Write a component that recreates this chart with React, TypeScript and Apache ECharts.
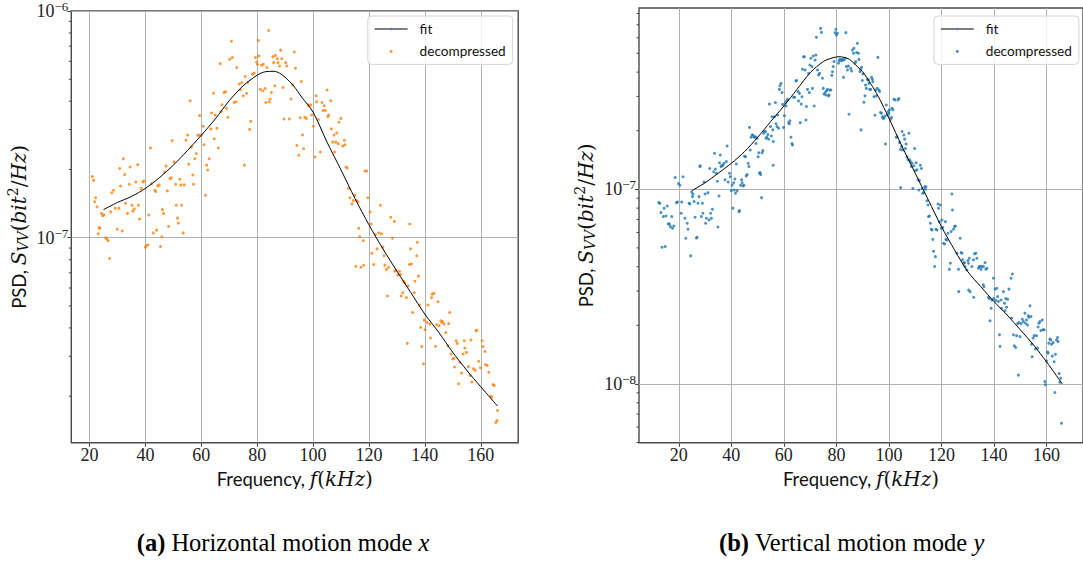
import React, { useEffect, useRef } from "react";
import * as echarts from "echarts";

// PSD values are given in units of 1e-7 bit^2/Hz
const UNIT = 1e-7;
const ORANGE = "#ff7f0e";
const BLUE = "#1f77b4";
const SERIF = "'Liberation Serif', 'DejaVu Serif', serif";
const MATH = "'DejaVu Serif', 'Liberation Serif', serif";
const SANS = "Lato, 'Open Sans', sans-serif";

const xTickValues = [20, 40, 60, 80, 100, 120, 140, 160];
const yMajorH = [1e-7, 1e-6];
const yMajorV = [1e-8, 1e-7];
const yMinorH = [2e-8, 3e-8, 4e-8, 5e-8, 6e-8, 7e-8, 8e-8, 9e-8, 2e-7, 3e-7, 4e-7, 5e-7, 6e-7, 7e-7, 8e-7, 9e-7];
const yMinorV = [5e-9, 6e-9, 7e-9, 8e-9, 9e-9, 2e-8, 3e-8, 4e-8, 5e-8, 6e-8, 7e-8, 8e-8, 9e-8, 2e-7, 3e-7, 4e-7, 5e-7, 6e-7, 7e-7, 8e-7];

// (a) horizontal motion mode x : [frequency kHz, PSD (1e-7)]
const horizPoints = [
  [21.0, 1.86], [21.5, 1.79], [21.85, 1.44], [22.2, 1.5], [22.7, 1.37], [23.1, 1.04], [23.45, 1.11], [23.7, 1.1],
  [24.3, 1.28], [24.7, 1.25], [25.2, 1.26], [25.8, 1.0], [26.2, 0.986], [26.65, 0.97], [27.15, 0.81], [27.6, 1.3],
  [28.0, 1.58], [28.6, 1.62], [29.2, 1.35], [29.9, 1.09], [30.5, 1.35], [30.8, 2.02], [31.1, 1.69], [31.7, 1.07],
  [32.1, 2.23], [32.6, 1.9], [32.9, 1.42], [33.6, 1.28], [34.2, 1.72], [34.5, 2.05], [35.2, 1.39], [35.5, 1.31],
  [36.0, 1.34], [36.6, 1.76], [37.25, 2.1], [37.5, 1.39], [37.9, 1.21], [38.5, 1.65], [39.1, 1.76], [39.5, 1.78],
  [40.0, 0.909], [40.3, 0.922], [40.95, 0.931], [41.2, 1.26], [41.8, 2.49], [42.2, 1.73], [42.8, 1.05], [43.4, 1.62],
  [43.7, 1.6], [44.0, 1.08], [44.4, 1.69], [44.9, 1.71], [45.4, 0.915], [45.9, 1.01], [46.1, 1.33], [46.5, 1.28],
  [46.9, 1.95], [47.4, 2.07], [47.85, 1.61], [48.3, 1.12], [48.8, 1.82], [49.2, 1.84], [49.6, 2.68], [50.2, 2.16],
  [50.8, 1.72], [51.05, 1.39], [51.5, 1.22], [51.8, 1.16], [52.3, 1.81], [52.65, 1.71], [53.0, 1.39], [53.5, 1.05],
  [53.9, 1.71], [54.5, 2.69], [55.1, 2.84], [55.5, 2.11], [56.0, 4.02], [56.5, 2.51], [57.0, 1.89], [57.2, 1.72],
  [57.7, 2.23], [58.2, 2.35], [58.8, 2.83], [59.2, 2.84], [59.4, 3.46], [60.05, 2.83], [60.7, 3.1], [61.0, 2.57],
  [61.5, 1.54], [61.9, 2.09], [62.3, 1.99], [62.8, 2.23], [63.4, 3.02], [63.7, 3.55], [64.4, 4.34], [64.6, 2.73],
  [65.0, 3.48], [65.6, 3.04], [66.1, 2.49], [66.8, 5.86], [67.1, 3.6], [67.4, 3.86], [68.1, 4.37], [68.7, 4.4],
  [69.0, 3.72], [69.5, 3.4], [70.15, 6.12], [70.8, 7.36], [71.1, 6.23], [71.75, 3.95], [72.4, 3.98], [72.7, 5.63],
  [73.6, 4.76], [74.0, 4.49], [74.5, 4.84], [75.0, 4.23], [75.45, 2.09], [75.7, 5.14], [76.2, 4.34], [76.7, 4.84],
  [77.3, 3.0], [77.7, 3.26], [78.3, 5.26], [78.9, 5.32], [79.4, 6.23], [79.8, 5.96], [80.1, 5.82], [80.4, 7.41],
  [80.6, 6.33], [81.1, 4.52], [81.6, 5.76], [82.0, 4.45], [82.2, 5.82], [82.85, 4.55], [83.1, 3.95], [83.5, 5.63],
  [84.1, 8.2], [84.3, 3.98], [84.7, 4.09], [85.1, 4.37], [85.6, 6.29], [85.9, 5.92], [86.3, 4.68], [86.5, 6.37],
  [87.2, 6.16], [87.5, 5.92], [88.0, 5.72], [88.4, 6.72], [88.8, 6.16], [89.25, 4.6], [89.6, 3.34], [90.2, 5.92],
  [90.6, 5.72], [91.5, 3.34], [92.1, 4.09], [92.7, 4.72], [93.3, 6.59], [93.7, 5.59], [94.2, 2.55], [94.9, 2.31],
  [95.4, 3.38], [95.8, 4.89], [96.2, 2.84], [96.6, 2.47], [97.0, 3.4], [97.6, 3.36], [98.25, 3.86], [98.6, 3.82],
  [99.1, 3.85], [99.5, 3.48], [100.1, 3.1], [100.7, 2.27], [101.1, 4.23], [101.3, 3.98], [101.9, 3.32], [102.6, 2.39],
  [103.2, 3.95], [103.55, 3.64], [104.0, 3.82], [104.4, 3.64], [105.0, 4.48], [105.3, 3.42], [105.6, 3.48], [106.3, 4.02],
  [106.5, 3.02], [107.0, 2.64], [107.5, 2.84], [107.7, 2.39], [108.1, 2.64], [108.5, 2.9], [109.0, 2.6], [109.3, 3.23],
  [109.95, 3.36], [110.6, 2.54], [111.2, 2.69], [111.4, 2.57], [111.8, 2.05], [112.2, 2.03], [112.7, 1.65], [113.2, 1.5],
  [113.9, 1.41], [114.4, 1.46], [114.9, 1.54], [115.5, 1.46], [116.1, 1.44], [116.3, 1.1], [116.7, 1.01], [118.0, 0.97],
  [118.6, 1.97], [119.2, 1.97], [119.6, 1.5], [120.4, 1.3], [120.8, 1.15], [121.05, 0.854], [122.3, 1.03], [122.9, 0.893],
  [123.5, 1.05], [124.1, 1.39], [124.5, 1.04], [125.0, 0.909], [125.4, 0.832], [127.8, 1.23], [128.4, 0.996], [129.1, 1.18],
  [134.6, 1.15], [134.85, 0.893], [137.1, 0.832], [137.3, 0.954],
  [115.3, 0.749], [117.1, 0.741], [118.1, 0.756], [121.7, 0.761], [125.7, 0.756], [126.2, 0.724], [127.0, 0.741], [126.6, 0.553],
  [129.2, 0.712], [129.7, 0.717], [130.3, 0.684], [130.9, 0.712], [131.3, 0.688], [131.5, 0.553], [132.1, 0.572], [132.4, 0.643],
  [132.75, 0.633], [133.4, 0.544], [133.7, 0.342], [134.0, 0.612], [134.5, 0.761], [135.2, 0.766], [135.6, 0.468], [136.45, 0.643],
  [136.2, 0.572], [137.7, 0.677], [138.05, 0.505], [138.5, 0.402], [138.9, 0.331], [139.5, 0.278], [139.8, 0.433], [140.1, 0.393],
  [140.8, 0.423], [141.1, 0.505], [141.75, 0.416], [142.0, 0.361], [142.4, 0.544], [142.6, 0.563], [143.2, 0.568], [143.8, 0.332],
  [144.2, 0.413], [144.7, 0.522], [145.1, 0.409], [145.7, 0.43], [146.1, 0.423], [146.3, 0.427], [146.9, 0.416], [147.5, 0.382],
  [148.2, 0.334], [148.5, 0.418], [148.9, 0.468], [149.4, 0.307], [150.0, 0.292], [150.4, 0.294], [150.6, 0.269], [151.2, 0.351],
  [151.6, 0.342], [152.1, 0.227], [152.5, 0.282], [153.1, 0.253], [153.7, 0.307], [154.1, 0.351], [154.3, 0.326], [154.9, 0.312],
  [155.55, 0.27], [156.2, 0.247], [156.5, 0.354], [156.8, 0.231], [157.4, 0.264], [158.0, 0.26], [158.3, 0.389], [158.6, 0.391],
  [159.25, 0.285], [159.9, 0.267], [160.5, 0.351], [160.85, 0.331], [161.5, 0.315], [161.7, 0.276], [162.3, 0.273], [162.9, 0.255],
  [163.6, 0.2], [163.9, 0.198], [164.4, 0.225], [164.8, 0.223], [165.4, 0.153], [165.8, 0.156], [166.0, 0.173],
];

const horizFit = [
  [25, 1.33], [30, 1.43], [35, 1.52], [40, 1.65], [45, 1.84], [50, 2.09], [55, 2.42], [60, 2.83], [65, 3.34],
  [70, 4.02], [75, 4.68], [80, 5.21], [83, 5.4], [86, 5.42], [88, 5.32], [90, 5.1], [93, 4.68], [96, 4.16],
  [100, 3.58], [105, 2.64], [110, 1.99], [115, 1.49], [120, 1.14], [125, 0.893], [130, 0.712], [135, 0.572],
  [140, 0.46], [145, 0.382], [150, 0.312], [155, 0.26], [160, 0.22], [166, 0.181],
];

// (b) vertical motion mode y : [frequency kHz, PSD (1e-7)]
const vertPoints = [
  [12.4, 0.854], [12.8, 0.848], [13.2, 0.759], [13.6, 0.504], [14.1, 0.724], [14.4, 0.799], [14.8, 0.508], [15.1, 0.729],
  [15.6, 0.821], [16.0, 0.664], [16.4, 0.664], [16.8, 0.643], [17.3, 0.724], [17.6, 0.631], [18.1, 0.648], [18.6, 1.15],
  [19.1, 0.854], [19.5, 0.86], [19.9, 1.07], [20.4, 1.05], [20.9, 0.753], [21.1, 0.86], [21.6, 1.16], [22.3, 0.71],
  [22.65, 0.56], [23.2, 0.669], [23.5, 0.623], [23.9, 0.848], [24.2, 0.841], [24.5, 0.455], [24.9, 0.969], [25.2, 0.917],
  [25.4, 0.946], [25.8, 0.865], [26.2, 0.718], [26.7, 0.562], [26.95, 0.567], [27.3, 0.848], [27.7, 0.917], [28.0, 1.31],
  [28.2, 1.32], [28.6, 0.724], [29.0, 0.848], [29.2, 0.753], [29.6, 1.09], [30.0, 0.946], [30.2, 0.669], [30.5, 0.71],
  [31.1, 0.961], [31.5, 0.696], [31.75, 1.28], [32.1, 0.753], [32.4, 0.71], [32.8, 0.789], [33.3, 1.23], [33.6, 1.53],
  [33.9, 1.27], [34.3, 1.21], [34.7, 1.1], [34.9, 0.64], [35.3, 0.924], [35.5, 1.37], [35.8, 1.5], [36.05, 1.31],
  [36.3, 1.32], [36.8, 1.33], [37.2, 1.36], [37.6, 1.12], [38.1, 1.39], [38.4, 1.67], [38.8, 1.09], [39.3, 1.21],
  [39.6, 1.16], [40.0, 0.984], [40.3, 1.05], [40.6, 0.799], [40.85, 1.08], [41.1, 0.992], [41.35, 1.13], [41.6, 0.954],
  [41.9, 1.35], [42.2, 0.984], [42.9, 0.768], [43.1, 0.777], [43.5, 1.05], [43.9, 1.12], [44.1, 1.08], [44.4, 1.04],
  [44.8, 1.05], [45.0, 1.48], [45.4, 1.47], [45.65, 1.17], [46.0, 1.19], [46.4, 1.36], [46.7, 1.31], [46.9, 2.08],
  [47.2, 1.59], [47.5, 1.85], [47.9, 1.9], [48.2, 1.9], [48.6, 1.86], [48.8, 1.85], [49.2, 1.86], [49.4, 1.72],
  [49.8, 1.83], [50.2, 1.47], [50.45, 1.54], [50.7, 1.21], [50.96, 1.22], [51.2, 1.19], [51.5, 0.906], [51.7, 1.54],
  [52.0, 1.58], [52.35, 1.94], [52.6, 1.98], [53.0, 1.98], [53.2, 1.83], [53.5, 1.85], [53.9, 1.91], [54.2, 1.81],
  [54.5, 2.74], [54.9, 2.1], [55.25, 1.88], [55.5, 2.36], [55.8, 2.02], [55.9, 1.33], [56.0, 1.76], [56.4, 2.36],
  [56.8, 2.79], [57.0, 2.17], [57.4, 2.1], [57.65, 2.41], [58.0, 2.06], [58.3, 3.26], [58.5, 3.4], [58.9, 3.5],
  [59.3, 3.14], [59.55, 2.73], [59.9, 2.08], [60.2, 2.39], [60.6, 2.79], [60.8, 2.68], [61.1, 2.85], [61.4, 2.9],
  [61.8, 2.2], [62.1, 2.17], [62.3, 2.25], [62.7, 1.85], [63.1, 1.72], [63.3, 1.69], [63.7, 2.97], [64.1, 2.97],
  [64.6, 3.6], [64.86, 3.62], [65.4, 3.18], [65.6, 2.84], [65.9, 3.11], [66.25, 2.2], [66.6, 2.74], [66.9, 2.99],
  [67.1, 4.14], [67.5, 4.8], [67.8, 4.8], [68.1, 4.1], [68.4, 2.27], [68.6, 2.66], [69.0, 3.26], [69.4, 3.94],
  [69.7, 3.14], [69.9, 4.35], [70.3, 4.71], [70.7, 4.27], [70.9, 3.3], [71.2, 4.84], [71.55, 2.68], [71.9, 4.62],
  [72.2, 4.9], [72.4, 6.04], [72.8, 4.1], [73.2, 3.87], [73.6, 3.94], [74.0, 6.71], [74.3, 6.4], [74.7, 3.72],
  [75.0, 3.3], [75.3, 3.09], [75.7, 3.14], [76.0, 3.05], [76.2, 3.21], [76.6, 3.26], [77.0, 3.02], [77.2, 3.05],
  [77.5, 3.24], [77.9, 3.24], [78.25, 3.85], [78.5, 4.02], [78.8, 4.27], [79.1, 4.53], [79.5, 6.38], [79.8, 6.64],
  [80.0, 6.21], [80.4, 6.33], [80.8, 4.44], [81.0, 4.57], [81.3, 4.65], [81.7, 4.62], [82.0, 4.58], [82.3, 4.65],
  [82.7, 3.76], [82.9, 4.62], [83.3, 4.71], [83.6, 6.38], [83.8, 4.27], [84.2, 4.1], [84.6, 4.3], [84.8, 2.43],
  [85.5, 4.18], [85.8, 4.05], [86.1, 5.2], [86.5, 5.0], [86.7, 5.3], [87.1, 4.44], [87.35, 4.53], [87.7, 5.04],
  [88.0, 5.62], [88.4, 5.0], [88.6, 4.65], [89.0, 4.02], [89.2, 4.1], [89.4, 2.02], [89.6, 4.23], [89.9, 3.62],
  [90.1, 3.91], [90.5, 2.8], [90.9, 3.02], [91.1, 3.43], [91.4, 3.3], [91.8, 3.67], [92.15, 3.64], [92.4, 3.5],
  [92.7, 3.26], [93.0, 3.26], [93.4, 3.76], [93.7, 3.67], [93.9, 3.57], [94.3, 2.99], [94.7, 2.4], [94.9, 3.24],
  [95.2, 3.02], [95.6, 3.3], [95.8, 4.76], [96.2, 3.24], [96.45, 3.18], [96.8, 2.48], [97.2, 2.46], [97.5, 2.36],
  [97.7, 2.32], [98.1, 2.32], [98.5, 2.38], [98.7, 1.71], [99.0, 2.71], [99.4, 2.41], [99.7, 2.51], [100.0, 2.46],
  [100.2, 2.56], [100.6, 2.29], [101.0, 2.34], [101.2, 2.61], [101.5, 2.56], [101.9, 2.9], [102.3, 2.88], [102.8, 1.85],
  [103.1, 1.86], [103.5, 2.88], [103.8, 2.93], [104.0, 1.74], [104.4, 1.6], [104.5, 1.02], [104.8, 1.66], [105.0, 1.98],
  [105.3, 1.59], [105.7, 1.9], [106.0, 1.81], [106.3, 1.62], [106.55, 1.71], [106.9, 1.47], [107.3, 1.42], [107.6, 1.94],
  [107.8, 1.42], [108.2, 1.39], [108.6, 1.31], [108.8, 1.36], [109.1, 1.01], [109.5, 1.32], [109.8, 1.62], [110.1, 1.25],
  [110.35, 1.37], [110.7, 1.26], [111.1, 1.12], [111.4, 0.992], [111.6, 1.11], [112.0, 1.33], [112.4, 1.28], [112.6, 1.01],
  [112.9, 0.954], [113.25, 0.961], [113.6, 1.03], [113.9, 1.0], [114.1, 1.03], [114.5, 0.874], [114.9, 0.831], [115.1, 0.724],
  [115.4, 0.729], [115.8, 0.669], [116.2, 0.623], [116.4, 0.618], [116.7, 0.553], [117.0, 0.48], [117.4, 0.401], [117.7, 0.451],
  [117.9, 0.623], [118.3, 0.618], [118.7, 0.841], [118.9, 0.799], [119.2, 0.682], [119.6, 0.831], [119.95, 0.631], [120.2, 0.696],
  [120.5, 0.636], [120.8, 0.528], [121.2, 0.524], [121.5, 0.682], [121.7, 0.553], [122.1, 0.549], [122.5, 0.594], [123.0, 0.388],
  [123.4, 0.417], [123.7, 0.607], [124.0, 0.946], [124.2, 0.783], [124.6, 0.623], [125.0, 0.643], [125.3, 0.648], [125.9, 0.469],
  [126.5, 0.388], [127.15, 0.56], [127.5, 0.473], [127.8, 0.469], [128.0, 0.434], [128.4, 0.417], [128.8, 0.42], [129.0, 0.401],
  [129.7, 0.385], [130.1, 0.431], [130.3, 0.417], [130.6, 0.442], [131.6, 0.401], [132.2, 0.434], [132.6, 0.466], [133.1, 0.469],
  [133.5, 0.442], [134.1, 0.393], [134.4, 0.401], [134.7, 0.401], [135.1, 0.388], [135.4, 0.401], [136.0, 0.401], [136.6, 0.42],
  [136.9, 0.388], [137.3, 0.393], [139.8, 0.349], [146.5, 0.349], [147.0, 0.367],
  [126.6, 0.298], [130.35, 0.304], [130.9, 0.298], [132.3, 0.279], [135.9, 0.323], [136.2, 0.316], [137.9, 0.279], [138.2, 0.275],
  [138.5, 0.211], [138.9, 0.245], [139.2, 0.27], [139.9, 0.275], [140.4, 0.307], [140.7, 0.268], [141.05, 0.31], [141.4, 0.281],
  [141.7, 0.265], [142.1, 0.179], [142.3, 0.156], [142.7, 0.27], [142.9, 0.245], [143.6, 0.298], [144.0, 0.26], [144.2, 0.238],
  [144.5, 0.275], [144.8, 0.248], [145.2, 0.272], [145.7, 0.307], [146.7, 0.218], [147.4, 0.179], [147.75, 0.157], [148.25, 0.154],
  [148.6, 0.177], [149.0, 0.204], [149.3, 0.111], [149.5, 0.207], [149.9, 0.175], [150.3, 0.204], [150.8, 0.215], [151.2, 0.209],
  [151.8, 0.231], [152.0, 0.205], [152.4, 0.213], [152.8, 0.201], [153.05, 0.224], [153.3, 0.22], [153.7, 0.252], [154.1, 0.222],
  [154.3, 0.16], [154.55, 0.138], [154.9, 0.172], [155.3, 0.177], [155.8, 0.151], [156.2, 0.177], [156.6, 0.153], [156.8, 0.196],
  [157.1, 0.205], [157.5, 0.209], [157.85, 0.188], [158.4, 0.213], [158.7, 0.19], [159.1, 0.19], [159.4, 0.103], [159.6, 0.099],
  [160.0, 0.131], [160.4, 0.146], [160.6, 0.144], [160.9, 0.162], [161.3, 0.17], [161.6, 0.168], [161.9, 0.16], [162.2, 0.139],
  [162.5, 0.163], [162.9, 0.13], [163.2, 0.0903], [163.4, 0.142], [163.8, 0.168], [164.2, 0.173], [164.4, 0.165], [164.8, 0.113],
  [165.1, 0.102], [165.4, 0.107], [165.7, 0.0628],
];

const vertFit = [
  [25, 0.984], [30, 1.08], [35, 1.21], [40, 1.36], [45, 1.56], [50, 1.85], [55, 2.23], [60, 2.68], [65, 3.26],
  [70, 3.97], [75, 4.53], [78, 4.71], [81, 4.8], [83, 4.76], [85, 4.65], [88, 4.27], [90, 4.02], [93, 3.5],
  [96, 2.99], [100, 2.32], [105, 1.66], [110, 1.21], [115, 0.882], [120, 0.643], [125, 0.488], [130, 0.378],
  [135, 0.316], [140, 0.265], [145, 0.226], [150, 0.19], [155, 0.159], [160, 0.13], [166, 0.1],
];

const toData = (pts: number[][]) => pts.map(([f, v]) => [f, v * UNIT]);

const tickRich = {
  b: { fontFamily: SERIF, fontSize: 18, lineHeight: 22, color: "#222" },
  e: { fontFamily: SERIF, fontSize: 13, lineHeight: 11, verticalAlign: "top", color: "#222" },
};

const nameRich = {
  s: { fontFamily: SANS, fontSize: 18.5, lineHeight: 28, color: "#111" },
  i: { fontFamily: MATH, fontStyle: "italic", fontSize: 20, lineHeight: 28, color: "#111" },
  r: { fontFamily: MATH, fontSize: 20, lineHeight: 28, color: "#111" },
  sub: { fontFamily: MATH, fontStyle: "italic", fontSize: 14, lineHeight: 14, verticalAlign: "bottom", padding: [0, 0, 3, 0], color: "#111" },
  sup: { fontFamily: MATH, fontSize: 14, lineHeight: 14, verticalAlign: "top", padding: [1, 0, 0, 0], color: "#111" },
};

const powLabel = (v: number) => {
  const l = Math.log10(v);
  const e = Math.round(l);
  if (Math.abs(l - e) > 1e-6) return "";
  return `{b|10}{e|\u2212${-e}}`;
};

function makeXAxis(gridIndex: number, min: number, max: number) {
  return {
    type: "value",
    gridIndex,
    min,
    max,
    splitNumber: 8,
    axisLine: { show: false },
    axisTick: { show: true, length: 4, customValues: xTickValues, lineStyle: { color: "#444", width: 1 } },
    axisLabel: { customValues: xTickValues, margin: 3, fontFamily: SERIF, fontSize: 18, color: "#222" },
    splitLine: { show: true, lineStyle: { color: "#b0b0b0", width: 1 } },
    name: "{s|Frequency, }{i|f}{r|(}{i|kHz}{r|)}",
    nameLocation: "middle",
    nameGap: 18,
    nameTextStyle: { rich: nameRich },
  };
}

function makeYAxis(gridIndex: number, min: number, max: number, major: number[], nameGap: number) {
  return {
    type: "log",
    logBase: 10,
    gridIndex,
    min,
    max,
    axisLine: { show: false },
    axisTick: { show: true, length: 4, customValues: major, lineStyle: { color: "#444", width: 1 } },
    axisLabel: { customValues: major, margin: 3, formatter: powLabel, rich: tickRich },
    splitLine: { show: true, lineStyle: { color: "#b0b0b0", width: 1 } },
    minorTick: { show: false },
    name: "{s|PSD, }{i|S}{sub|VV}{r|(}{i|bit}{sup|2}{r|/}{i|Hz}{r|)}",
    nameLocation: "middle",
    nameRotate: 90,
    nameGap,
    nameTextStyle: { rich: nameRich },
  };
}

function minorTickSeries(axisIndex: number, xMin: number, values: number[]) {
  return {
    type: "custom",
    xAxisIndex: axisIndex,
    yAxisIndex: axisIndex,
    silent: true,
    clip: false,
    z: 10,
    data: values.map((v) => [xMin, v]),
    renderItem: (_params: any, api: any) => {
      const p = api.coord([api.value(0), api.value(1)]);
      return {
        type: "line",
        shape: { x1: p[0] - 2.5, y1: p[1], x2: p[0], y2: p[1] },
        style: { stroke: "#444", lineWidth: 1 },
      };
    },
  };
}

function makeLegend(left: number, color: string) {
  return {
    orient: "vertical",
    left,
    top: 16,
    itemWidth: 33,
    itemHeight: 3,
    itemGap: 6.4,
    padding: [5, 7, 5, 6],
    backgroundColor: "rgba(255,255,255,0.85)",
    borderColor: "#d5d5d5",
    borderWidth: 1,
    borderRadius: 4,
    selectedMode: false,
    textStyle: { fontFamily: SANS, fontSize: 13.6, color: "#111", lineHeight: 16, padding: [0, 0, 0, 7] },
    data: [
      { name: "fit", lineStyle: { color: "#555", width: 1.6 } },
      { name: "decompressed", itemStyle: { color, borderWidth: 0 } },
    ],
  };
}

const captionStyle = (text: string) => ({
  text,
  fontFamily: SERIF,
  fontSize: 24.5,
  fill: "#000",
  align: "center",
  verticalAlign: "middle",
  textAlign: "center",
  textVerticalAlign: "middle",
  rich: {
    b: { fontFamily: SERIF, fontSize: 24.5, fontWeight: "bold", fill: "#000" },
    i: { fontFamily: SERIF, fontSize: 24.5, fontStyle: "italic", fill: "#000" },
  },
});

const H_X = [13.49, 173.4];
const V_X = [4.84, 173.9];
const H_Y = [1.247e-8, 1e-6];
const V_Y = [4.99e-9, 8.54e-7];

export default function App() {
  const ref = useRef<HTMLDivElement>(null);
  useEffect(() => {
    if (!ref.current) return;
    const chart = echarts.init(ref.current, undefined, { renderer: "svg" });
    const option: any = {
      animation: false,
      backgroundColor: "#ffffff",
      grid: [
        { left: 71.3, top: 8, width: 446.9, height: 434.7, show: true, borderColor: "#4a4a4a", borderWidth: 1.4, backgroundColor: "transparent" },
        { left: 639, top: 8, width: 446, height: 434.7, show: true, borderColor: "#4a4a4a", borderWidth: 1.4, backgroundColor: "transparent" },
      ],
      xAxis: [makeXAxis(0, H_X[0], H_X[1]), makeXAxis(1, V_X[0], V_X[1])],
      yAxis: [makeYAxis(0, H_Y[0], H_Y[1], yMajorH, 38), makeYAxis(1, V_Y[0], V_Y[1], yMajorV, 31)],
      legend: [makeLegend(367.8, ORANGE), makeLegend(934, BLUE)],
      series: [
        {
          type: "scatter", name: "decompressed", xAxisIndex: 0, yAxisIndex: 0,
          data: toData(horizPoints), symbolSize: 3, itemStyle: { color: ORANGE }, z: 3,
        },
        {
          type: "line", name: "fit", xAxisIndex: 0, yAxisIndex: 0, data: toData(horizFit),
          symbol: "none", showSymbol: false, smooth: 0.3, lineStyle: { color: "#000", width: 1 }, z: 4,
        },
        {
          type: "scatter", name: "decompressed", xAxisIndex: 1, yAxisIndex: 1,
          data: toData(vertPoints), symbolSize: 3, itemStyle: { color: BLUE }, z: 3,
        },
        {
          type: "line", name: "fit", xAxisIndex: 1, yAxisIndex: 1, data: toData(vertFit),
          symbol: "none", showSymbol: false, smooth: 0.3, lineStyle: { color: "#000", width: 1 }, z: 4,
        },
        minorTickSeries(0, H_X[0], yMinorH),
        minorTickSeries(1, V_X[0], yMinorV),
      ],
      graphic: [
        { type: "text", x: 283, y: 542, style: captionStyle("{b|(a)} Horizontal motion mode {i|x}") },
        { type: "text", x: 851.7, y: 542, style: captionStyle("{b|(b)} Vertical motion mode {i|y}") },
      ],
    };
    chart.setOption(option);
    return () => chart.dispose();
  }, []);
  return (
    <div
      ref={ref}
      style={{ position: "fixed", left: 0, top: 0, width: 1083, height: 563, background: "#fff" }}
    />
  );
}
